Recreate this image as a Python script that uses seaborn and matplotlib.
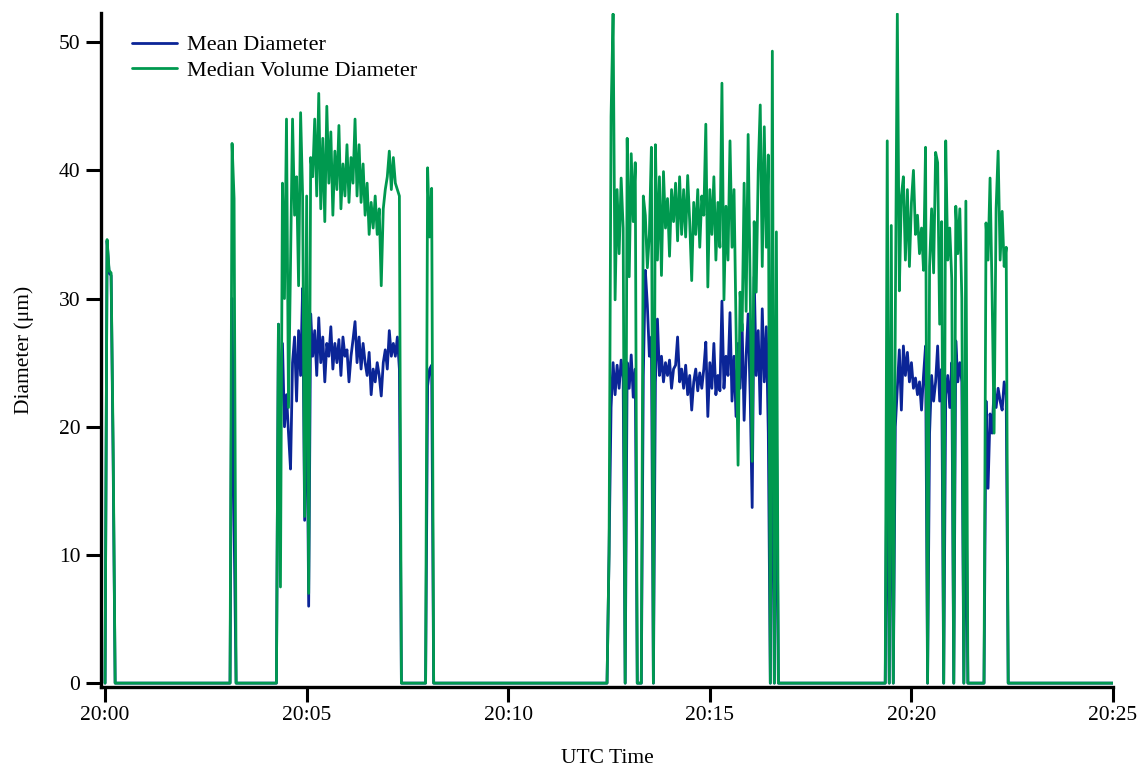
import numpy as np
import pandas as pd
import matplotlib
matplotlib.use("Agg")
import matplotlib.pyplot as plt
import seaborn as sns

# ---------------- data ----------------
tick_seconds = [0, 300, 600, 900, 1200, 1500]
tick_labels = ["20:00", "20:05", "20:10", "20:15", "20:20", "20:25"]
y_ticks = [0, 10, 20, 30, 40, 50]
series_names = ["Mean Diameter", "Median Volume Diameter"]
step_s = 3          # sample spacing (s)
end_s = 1500        # 20:25:00

# segment start times (seconds after 20:00:00); values are 0 outside segments
seg_start = [3, 189, 258, 480, 750, 1164, 1311]

mean_s0 = [34.5, 32.0, 31.8, 17.5]
mvd_s0 = [34.6, 32.2, 32.0, 18.6]

mean_s1 = [30.0, 12.3]
mvd_s1 = [42.1, 37.8]

mean_s2 = [28.0, 21.0, 26.5, 20.0, 22.5, 19.5, 16.7, 25.0, 27.0, 22.0,
           27.5, 24.0, 30.8, 12.7, 26.0, 6.0, 28.8, 25.5, 27.5, 24.0,
           28.5, 25.0, 27.0, 23.5, 26.5, 25.5, 27.8, 24.5, 26.5, 25.0,
           26.8, 24.0, 27.0, 25.5, 26.0, 23.5, 25.5, 26.8, 28.2, 25.0,
           27.0, 24.5, 26.5, 25.0, 24.0, 25.8, 22.5, 24.5, 23.5, 25.0,
           24.0, 22.4, 25.0, 26.0, 24.5, 27.5, 25.5, 26.5, 25.5, 27.0,
           24.5]
mvd_s2 = [28.0, 7.5, 39.0, 30.0, 44.0, 21.5, 33.0, 44.0, 36.5, 39.5,
          31.0, 44.5, 38.0, 13.0, 38.0, 7.0, 41.0, 39.5, 44.0, 38.0,
          46.0, 37.0, 42.5, 36.0, 45.0, 39.0, 43.0, 36.5, 41.5, 38.5,
          43.5, 37.0, 40.5, 38.0, 42.0, 37.5, 41.0, 39.0, 44.0, 38.0,
          42.0, 37.5, 40.5, 36.5, 39.0, 35.0, 37.5, 35.5, 38.0, 35.0,
          37.0, 31.0, 37.0, 38.5, 39.5, 41.5, 38.5, 41.0, 39.0, 38.5,
          38.0]

mean_s3 = [23.2, 24.5, 24.8]
mvd_s3 = [40.2, 34.8, 38.6]

mean_s4 = [10.1, 21.5, 25.0, 22.5, 24.8, 23.0, 25.2, 23.8, 0.0, 25.0,
           23.0, 25.6, 22.3, 24.5, 0.0, 0.0, 0.0, 24.0, 32.2, 29.5,
           25.5, 27.0, 0.0, 23.5, 28.4, 24.0, 25.5, 23.5, 25.0, 24.0,
           25.2, 23.0, 24.5, 24.8, 27.0, 23.5, 24.5, 23.0, 24.8, 22.5,
           24.0, 21.3, 23.5, 24.5, 22.8, 24.2, 23.0, 24.5, 26.6, 20.8,
           25.0, 23.0, 26.5, 22.5, 24.0, 22.8, 29.8, 23.0, 25.5, 24.0,
           28.9, 22.0, 25.5, 20.8, 26.5, 23.0, 28.0, 20.5, 25.5, 28.8,
           22.5, 13.7, 31.7, 24.0, 27.5, 21.0, 29.2, 23.5, 27.8, 19.5,
           0.0, 26.0, 0.0, 21.0, 0.0]
mvd_s4 = [10.1, 44.2, 52.2, 29.9, 38.5, 33.5, 39.4, 35.5, 0.0, 42.5,
          31.7, 41.3, 36.0, 40.6, 0.0, 0.0, 0.0, 38.0, 36.5, 32.4,
          35.0, 41.8, 0.0, 42.0, 33.0, 39.5, 31.8, 39.9, 35.5, 37.8,
          33.3, 38.5, 36.0, 39.0, 34.5, 39.5, 35.0, 38.5, 34.8, 39.6,
          36.0, 31.4, 37.5, 35.0, 38.5, 34.0, 38.0, 36.5, 43.6, 30.9,
          38.5, 35.0, 39.5, 33.0, 37.5, 34.0, 46.8, 29.9, 37.2, 33.0,
          42.3, 34.0, 38.5, 27.5, 17.0, 30.5, 27.5, 39.0, 29.0, 42.8,
          31.0, 17.3, 36.0, 30.5, 40.0, 45.1, 32.5, 43.4, 34.0, 41.2,
          0.0, 49.3, 0.0, 35.2, 0.0]

mean_s5 = [22.0, 0.0, 24.0, 0.0, 20.0, 23.0, 26.0, 21.3, 26.3, 24.0,
           25.8, 23.5, 25.0, 23.0, 23.8, 22.5, 23.5, 21.3, 24.0, 26.3,
           0.0, 19.5, 24.0, 22.0, 23.5, 26.3, 22.0, 24.5, 0.0, 22.5,
           24.0, 21.5, 25.0, 0.0, 26.7, 23.5, 25.0, 23.5, 0.0, 16.8,
           0.0]
mvd_s5 = [42.3, 0.0, 35.7, 0.0, 28.5, 52.2, 30.6, 38.0, 39.5, 33.0,
          38.5, 32.5, 37.5, 40.0, 35.0, 36.5, 33.5, 35.5, 32.2, 41.8,
          0.0, 32.5, 37.0, 32.0, 41.4, 40.6, 28.0, 36.0, 0.0, 42.3,
          33.0, 35.5, 31.5, 0.0, 37.2, 33.5, 37.0, 30.0, 0.0, 37.6,
          0.0]

mean_s6 = [22.0, 15.2, 21.0, 19.5, 23.0, 21.5, 23.0, 22.0, 21.3, 23.5, 22.5, 0.0]
mvd_s6 = [35.9, 33.0, 39.4, 30.5, 19.5, 37.0, 41.5, 33.0, 36.8, 32.5, 34.0, 0.0]

mean_segs = [mean_s0, mean_s1, mean_s2, mean_s3, mean_s4, mean_s5, mean_s6]
mvd_segs = [mvd_s0, mvd_s1, mvd_s2, mvd_s3, mvd_s4, mvd_s5, mvd_s6]

# ---------------- build series ----------------
t = np.arange(0, end_s + 1, step_s)
mean_d = np.zeros(len(t))
mvd_d = np.zeros(len(t))
for start, mv, gv in zip(seg_start, mean_segs, mvd_segs):
    i0 = start // step_s
    mean_d[i0:i0 + len(mv)] = mv
    mvd_d[i0:i0 + len(gv)] = gv

df = pd.DataFrame({
    "time": np.concatenate([t, t]),
    "diam": np.concatenate([mean_d, mvd_d]),
    "series": [series_names[0]] * len(t) + [series_names[1]] * len(t),
})

# ---------------- plot ----------------
sns.set_style("ticks")
plt.rcParams["font.family"] = ["Liberation Serif", "DejaVu Serif"]
plt.rcParams.update({"text.color": "black", "axes.labelcolor": "black",
                     "xtick.color": "black", "ytick.color": "black"})

fig = plt.figure(figsize=(11.39, 7.68), dpi=100)
ax = fig.add_axes([0.0887, 0.1055, 0.8885, 0.878])

palette = {series_names[0]: "#0b2597", series_names[1]: "#00994f"}
sns.lineplot(data=df, x="time", y="diam", hue="series", hue_order=series_names,
             palette=palette, estimator=None, sort=False, linewidth=2.0, ax=ax)

ax.set_xlim(-6, end_s)
ax.set_ylim(-0.3, 52.3)
ax.set_xticks(tick_seconds)
ax.set_xticklabels(tick_labels)
ax.set_yticks(y_ticks)
ax.set_xlabel("UTC Time", fontsize=15.5, labelpad=17)
ax.set_ylabel("Diameter (\u03bcm)", fontsize=15.5, labelpad=18)
ax.tick_params(axis="both", labelsize=15.5, length=11, width=2.2,
               direction="out", color="black", labelcolor="black", pad=4)
ax.tick_params(axis="x", pad=3)

for side in ["top", "right"]:
    ax.spines[side].set_visible(False)
for side in ["left", "bottom"]:
    ax.spines[side].set_linewidth(2.4)
    ax.spines[side].set_color("black")

leg = ax.legend(frameon=False, loc="upper left", bbox_to_anchor=(0.031, 0.967),
                fontsize=16, handlelength=2.0, handletextpad=0.45,
                labelspacing=0.22, borderaxespad=0, borderpad=0)
for txt in leg.get_texts():
    txt.set_color("black")
for line in leg.get_lines():
    line.set_linewidth(2.0)

fig.savefig("out.png", dpi=100)
